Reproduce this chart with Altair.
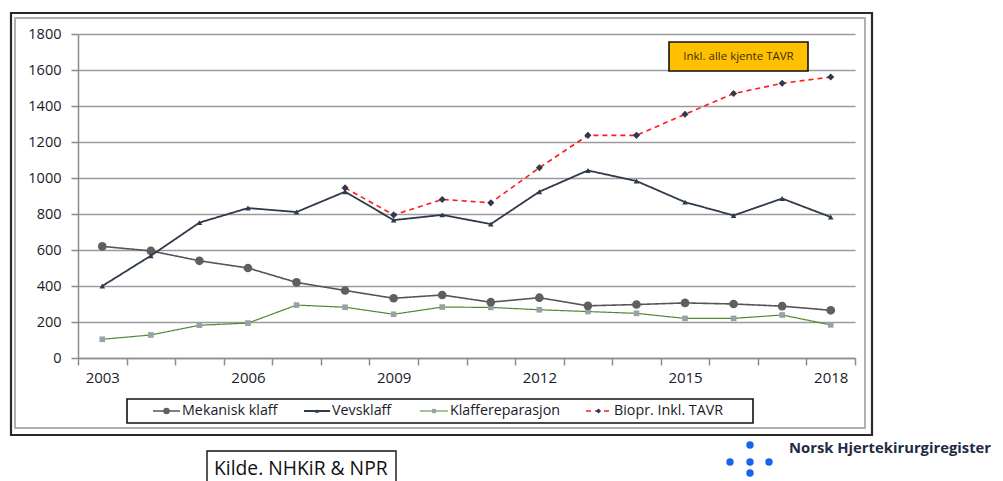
import altair as alt
import pandas as pd

# ---------------- data ----------------
years = list(range(2003, 2019))
mekanisk = [620, 595, 540, 500, 420, 375, 332, 350, 310, 335, 290, 297, 306, 300, 288, 265]
vevsklaff = [400, 568, 752, 833, 811, 924, 766, 795, 744, 924, 1042, 983, 866, 792, 886, 783]
klaffereparasjon = [104, 128, 182, 194, 294, 282, 243, 283, 281, 268, 258, 248, 220, 220, 239, 184]
biopr_tavr = [None, None, None, None, None, 945, 795, 881, 862, 1057, 1237, 1237, 1354, 1469, 1526, 1561]

series_names = ["Mekanisk klaff", "Vevsklaff", "Klaffereparasjon", "Biopr. Inkl.  TAVR"]
series_values = [mekanisk, vevsklaff, klaffereparasjon, biopr_tavr]
y_ticks = [0, 200, 400, 600, 800, 1000, 1200, 1400, 1600, 1800]

annotation_text = "Inkl. alle kjente TAVR"
source_text = "Kilde. NHKiR & NPR"
logo_text = "Norsk Hjertekirurgiregister"

# ---------------- styles ----------------
FONT = "Open Sans"
TXT = "#1a1b2a"
styles = {
    "Mekanisk klaff": dict(line="#555555", dash=[1, 0], mk="circle", mkc="#5f5f5f", size=75, sw=1.6),
    "Vevsklaff": dict(line="#2f3a4a", dash=[1, 0], mk="triangle-up", mkc="#2f3a4a", size=32, sw=1.8),
    "Klaffereparasjon": dict(line="#4f8a2f", dash=[1, 0], mk="square", mkc="#9aa0a8", size=32, sw=1.2),
    "Biopr. Inkl.  TAVR": dict(line="#ff1a1a", dash=[5, 4], mk="diamond", mkc="#2f3a4a", size=50, sw=1.6),
}

rows = []
for name, vals in zip(series_names, series_values):
    for yr, v in zip(years, vals):
        if v is not None:
            rows.append({"year": yr, "value": v, "series": name})
df = pd.DataFrame(rows)

W, H = 777, 324

x_enc = alt.X(
    "year:O",
    scale=alt.Scale(type="band", domain=years, paddingInner=0, paddingOuter=0),
    bandPosition=0.5,
    axis=alt.Axis(
        title=None,
        labelExpr="(toNumber(datum.value) - 2003) % 3 == 0 ? datum.label : ''",
        labelAngle=0,
        tickBand="extent",
        tickSize=7,
        tickColor="#8c8c8c",
        tickWidth=1.5,
        domainColor="#8c8c8c",
        domainWidth=1.5,
        labelFont=FONT,
        labelFontSize=15,
        labelColor=TXT,
        labelPadding=5,
        grid=False,
    ),
)
y_enc = alt.Y(
    "value:Q",
    scale=alt.Scale(domain=[0, 1800], nice=False),
    axis=alt.Axis(
        title=None,
        values=y_ticks,
        format="d",
        grid=True,
        gridColor="#9a9a9a",
        gridWidth=1.5,
        tickSize=7,
        tickColor="#8c8c8c",
        tickWidth=1.5,
        domainColor="#8c8c8c",
        domainWidth=1.5,
        labelFont=FONT,
        labelFontSize=14.5,
        labelColor=TXT,
        labelPadding=10,
    ),
)

layers = []

# frame (decoration)
layers.append(
    alt.Chart(pd.DataFrame({"a": [0]})).mark_rect(fillOpacity=0, stroke="#2a2a2a", strokeWidth=2.2).encode(
        x=alt.value(-67), x2=alt.value(794), y=alt.value(-21), y2=alt.value(401)
    )
)
layers.append(
    alt.Chart(pd.DataFrame({"a": [0]})).mark_rect(fillOpacity=0, stroke="#b0b0b0", strokeWidth=2).encode(
        x=alt.value(-63), x2=alt.value(787), y=alt.value(-16), y2=alt.value(394)
    )
)

draw_order = ["Biopr. Inkl.  TAVR", "Klaffereparasjon", "Mekanisk klaff", "Vevsklaff"]
for name in draw_order:
    st = styles[name]
    d = df[df.series == name]
    base = alt.Chart(d)
    layers.append(
        base.mark_line(color=st["line"], strokeWidth=st["sw"], strokeDash=st["dash"]).encode(x=x_enc, y=y_enc)
    )
    layers.append(
        base.mark_point(shape=st["mk"], filled=True, color=st["mkc"], size=st["size"], opacity=1).encode(
            x=x_enc, y=y_enc
        )
    )

# annotation box
layers.append(
    alt.Chart(pd.DataFrame({"a": [0]})).mark_rect(fill="#ffc000", stroke="#111111", strokeWidth=1.6).encode(
        x=alt.value(591), x2=alt.value(730), y=alt.value(8), y2=alt.value(37)
    )
)
layers.append(
    alt.Chart(pd.DataFrame({"t": [annotation_text]})).mark_text(
        font=FONT, fontSize=11.5, color="#3a2f00", align="center", baseline="middle"
    ).encode(x=alt.value(660.5), y=alt.value(22.5), text="t:N")
)

# legend (manual)
layers.append(
    alt.Chart(pd.DataFrame({"a": [0]})).mark_rect(fill="white", stroke="#111111", strokeWidth=1.6).encode(
        x=alt.value(49), x2=alt.value(675), y=alt.value(365), y2=alt.value(389)
    )
)
legend_pos = {
    "Mekanisk klaff": (75, 102, 104),
    "Vevsklaff": (226, 252, 254),
    "Klaffereparasjon": (342, 370, 372),
    "Biopr. Inkl.  TAVR": (508, 533, 536),
}
LY = 377
for name in series_names:
    st = styles[name]
    x1, x2, xt = legend_pos[name]
    one = pd.DataFrame({"t": [name]})
    layers.append(
        alt.Chart(one).mark_rule(color=st["line"], strokeWidth=st["sw"], strokeDash=st["dash"]).encode(
            x=alt.value(x1), x2=alt.value(x2), y=alt.value(LY)
        )
    )
    layers.append(
        alt.Chart(one).mark_point(shape=st["mk"], filled=True, color=st["mkc"], size=st["size"] * 0.55, opacity=1).encode(
            x=alt.value((x1 + x2) / 2), y=alt.value(LY)
        )
    )
    layers.append(
        alt.Chart(one).mark_text(font=FONT, fontSize=14.3, color=TXT, align="left", baseline="middle").encode(
            x=alt.value(xt), y=alt.value(LY), text="t:N"
        )
    )

# source box
layers.append(
    alt.Chart(pd.DataFrame({"a": [0]})).mark_rect(fill="white", stroke="#111111", strokeWidth=1.4).encode(
        x=alt.value(129), x2=alt.value(318), y=alt.value(417), y2=alt.value(470)
    )
)
layers.append(
    alt.Chart(pd.DataFrame({"t": [source_text]})).mark_text(
        font=FONT, fontSize=19.3, color="#111111", align="left", baseline="middle"
    ).encode(x=alt.value(136), y=alt.value(435), text="t:N")
)

# logo
logo = pd.DataFrame({"px": [672, 652, 672, 691, 672], "py": [411, 428, 428, 428, 439]})
layers.append(
    alt.Chart(logo).mark_circle(color="#1763f0", size=55, opacity=1).encode(
        x=alt.X("px:Q", scale=None), y=alt.Y("py:Q", scale=None)
    )
)
layers.append(
    alt.Chart(pd.DataFrame({"t": [logo_text]})).mark_text(
        font=FONT, fontSize=14.8, fontWeight="bold", color="#1f2a44", align="left", baseline="middle"
    ).encode(x=alt.value(711), y=alt.value(414.5), text="t:N")
)

chart = (
    alt.layer(*layers)
    .properties(
        width=W,
        height=H,
        autosize=alt.AutoSizeParams(type="none"),
        padding={"left": 70, "top": 26, "right": 140, "bottom": 123},
        background="white",
    )
    .configure_view(stroke=None)
)

chart.save("out.html", embed_options={"renderer": "svg", "actions": False})
